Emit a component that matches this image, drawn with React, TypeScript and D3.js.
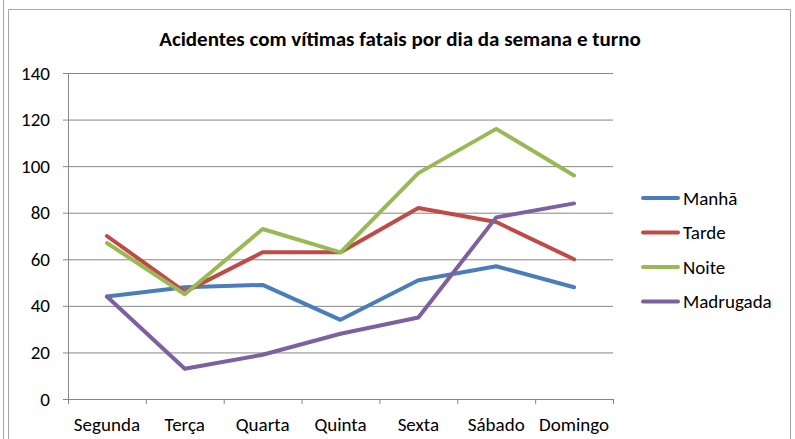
import React from "react";
import * as d3 from "d3";

const dias = ["Segunda", "Terça", "Quarta", "Quinta", "Sexta", "Sábado", "Domingo"];
const manha = [44, 48, 49, 34, 51, 57, 48];
const tarde = [70, 46, 63, 63, 82, 76, 60];
const noite = [67, 45, 73, 63, 97, 116, 96];
const madrugada = [44, 13, 19, 28, 35, 78, 84];
const yTicks = [0, 20, 40, 60, 80, 100, 120, 140];

const series = [
  { name: "Manhã", values: manha, color: "#4a7ebb" },
  { name: "Tarde", values: tarde, color: "#be4b48" },
  { name: "Noite", values: noite, color: "#98b954" },
  { name: "Madrugada", values: madrugada, color: "#7d60a0" },
];

const W = 795;
const H = 439;
const font = "Carlito, Calibri, 'Open Sans', sans-serif";

export default function App() {
  const x = d3.scaleBand<string>().domain(dias).range([68, 613]);
  const y = d3.scaleLinear().domain([0, 140]).range([399, 73]);

  const line = d3
    .line<number>()
    .x((_, i) => (x(dias[i]) as number) + x.bandwidth() / 2)
    .y((d) => y(d));

  const boundaries = dias.map((d) => x(d) as number).concat([x.range()[1]]);

  return (
    <svg
      width={W}
      height={H}
      style={{ position: "absolute", left: 0, top: 0, background: "#fff" }}
      fontFamily={font}
    >
      {/* moldura */}
      <line x1={3.5} x2={3.5} y1={0} y2={H} stroke="#a6a6a6" />
      <path d={`M8.5,${H} V9.5 H790.5 V${H}`} fill="none" stroke="#a6a6a6" />

      <text x={400} y={46} textAnchor="middle" fontSize={21} fontWeight="bold" fill="#000">
        Acidentes com vítimas fatais por dia da semana e turno
      </text>

      {/* grade */}
      {yTicks.map((t) => (
        <g key={t}>
          <line x1={63} x2={613} y1={y(t) + 0.5} y2={y(t) + 0.5} stroke="#868686" />
          <text x={50} y={y(t) + 6.5} textAnchor="end" fontSize={19} fill="#000">
            {t}
          </text>
        </g>
      ))}
      <line x1={68.5} x2={68.5} y1={73} y2={399} stroke="#868686" />
      {boundaries.map((b, i) => (
        <line key={i} x1={b + 0.5} x2={b + 0.5} y1={399} y2={404} stroke="#868686" />
      ))}
      {dias.map((d) => (
        <text
          key={d}
          x={(x(d) as number) + x.bandwidth() / 2}
          y={431}
          textAnchor="middle"
          fontSize={19}
          fill="#000"
        >
          {d}
        </text>
      ))}

      {series.map((s) => (
        <path
          key={s.name}
          d={line(s.values) || ""}
          fill="none"
          stroke={s.color}
          strokeWidth={4}
          strokeLinejoin="round"
          strokeLinecap="round"
        />
      ))}

      {/* legenda */}
      {series.map((s, i) => {
        const ly = 198 + i * 34.5;
        return (
          <g key={s.name}>
            <line x1={643} x2={678} y1={ly} y2={ly} stroke={s.color} strokeWidth={4} strokeLinecap="round" />
            <text x={683} y={ly + 6.5} fontSize={19} fill="#000">
              {s.name}
            </text>
          </g>
        );
      })}
    </svg>
  );
}
